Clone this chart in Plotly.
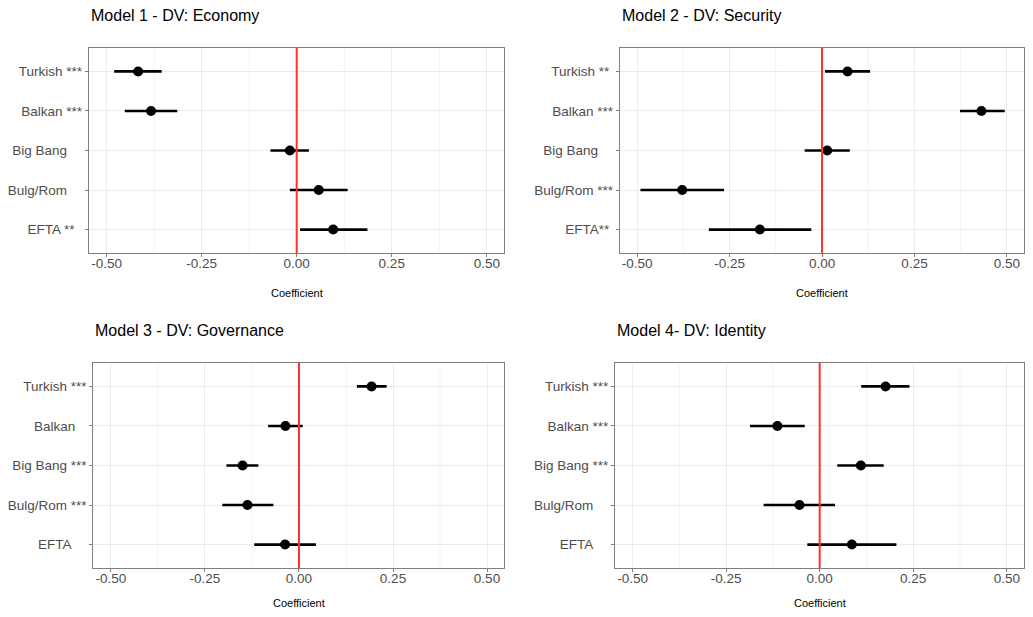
import plotly.graph_objects as go

# The page body adds an 8px margin on every side; keep the figure inside the window.
OFF = 8
W, H = 1033 - 2 * OFF, 617 - 2 * OFF
NB = "\u00a0"

categories = ["Turkish", "Balkan", "Big Bang", "Bulg/Rom", "EFTA"]

titles = ["Model 1 - DV: Economy", "Model 2 - DV: Security",
          "Model 3 - DV: Governance", "Model 4- DV: Identity"]

# tick labels (significance stars)
labels_m1 = ["Turkish ***", "Balkan ***", "Big Bang", "Bulg/Rom", "EFTA **"]
labels_m2 = ["Turkish **", "Balkan ***", "Big Bang", "Bulg/Rom ***", "EFTA**"]
labels_m3 = ["Turkish ***", "Balkan", "Big Bang ***", "Bulg/Rom ***", "EFTA"]
labels_m4 = ["Turkish ***", "Balkan ***", "Big Bang ***", "Bulg/Rom", "EFTA"]

# coefficient estimates and confidence bounds
est_m1 = [-0.417, -0.383, -0.018, 0.058, 0.096]
lo_m1 = [-0.480, -0.452, -0.069, -0.018, 0.009]
hi_m1 = [-0.355, -0.314, 0.032, 0.134, 0.186]

est_m2 = [0.069, 0.431, 0.014, -0.378, -0.168]
lo_m2 = [0.008, 0.373, -0.047, -0.491, -0.306]
hi_m2 = [0.130, 0.494, 0.075, -0.265, -0.029]

est_m3 = [0.193, -0.036, -0.150, -0.137, -0.037]
lo_m3 = [0.154, -0.082, -0.193, -0.204, -0.119]
hi_m3 = [0.233, 0.010, -0.108, -0.068, 0.045]

est_m4 = [0.176, -0.113, 0.110, -0.054, 0.086]
lo_m4 = [0.111, -0.186, 0.047, -0.150, -0.033]
hi_m4 = [0.240, -0.040, 0.171, 0.041, 0.205]

x_ticks = [-0.5, -0.25, 0.0, 0.25, 0.5]
x_ticktext = ["-0.50", "-0.25", "0.00", "0.25", "0.50"]
x_minor = [-0.375, -0.125, 0.125, 0.375]

# padding (in non-breaking spaces) to mimic the right-aligned labels
pads = [
    [0, 0, 4, 4, 2],
    [1, 0, 4, 0, 1],
    [0, 3, 0, 0, 4],
    [0, 0, 0, 4, 4],
]

panels = [
    (labels_m1, est_m1, lo_m1, hi_m1),
    (labels_m2, est_m2, lo_m2, hi_m2),
    (labels_m3, est_m3, lo_m3, hi_m3),
    (labels_m4, est_m4, lo_m4, hi_m4),
]

# panel boxes in page pixels: (left, right, top, bottom, axis-title y)
boxes = [
    (88.7, 504.3, 47.7, 253.3, 293.3),
    (619.7, 1024.0, 47.7, 253.3, 293.3),
    (93.3, 504.3, 362.7, 568.3, 603.0),
    (615.0, 1024.0, 362.7, 568.3, 603.0),
]

FONT = "Liberation Sans, Arial"

fig = go.Figure()
layout = {}
annotations = []
shapes = []

for i, ((labs, est, lo, hi), box, pad) in enumerate(zip(panels, boxes, pads)):
    n = "" if i == 0 else str(i + 1)
    xa, ya = "x" + n, "y" + n
    L, R, T, B, AY = [v - OFF for v in box]
    fig.add_trace(go.Scatter(
        x=est, y=categories, xaxis=xa, yaxis=ya, mode="markers",
        marker=dict(color="black", size=10),
        error_x=dict(type="data", symmetric=False,
                     array=[h - e for h, e in zip(hi, est)],
                     arrayminus=[e - l for e, l in zip(est, lo)],
                     width=0, thickness=2.6, color="black"),
        showlegend=False, hoverinfo="skip",
    ))
    ticktext = [t + NB * p for t, p in zip(labs, pad)]
    layout["xaxis" + n] = dict(
        domain=[L / W, R / W], anchor=ya, range=[-0.547, 0.546],
        tickmode="array", tickvals=x_ticks, ticktext=x_ticktext,
        showgrid=True, gridcolor="#ebebeb", gridwidth=1,
        zeroline=False, showline=True, mirror=True, linecolor="#7f7f7f", linewidth=1,
        ticks="outside", ticklen=3, tickcolor="#7f7f7f", tickwidth=1,
        ticklabelstandoff=-6, automargin=False,
        tickfont=dict(family=FONT, size=13.5, color="#4d4d4d"),
        fixedrange=True,
    )
    layout["yaxis" + n] = dict(
        domain=[1 - B / H, 1 - T / H], anchor=xa,
        type="category", categoryorder="array",
        categoryarray=categories[::-1],
        range=[-0.6, 4.6],
        tickmode="array", tickvals=categories, ticktext=ticktext,
        showgrid=True, gridcolor="#ebebeb", gridwidth=1,
        zeroline=False, showline=True, mirror=True, linecolor="#7f7f7f", linewidth=1,
        ticks="outside", ticklen=3, tickcolor="#7f7f7f", tickwidth=1,
        automargin=False,
        tickfont=dict(family=FONT, size=13.5, color="#4d4d4d"),
        fixedrange=True,
    )
    for mv in x_minor:
        shapes.append(dict(type="line", xref=xa, yref=ya + " domain", x0=mv, x1=mv, y0=0, y1=1,
                           line=dict(color="#f3f3f3", width=1), layer="below"))
    shapes.append(dict(type="line", xref=xa, yref=ya + " domain", x0=0, x1=0, y0=0, y1=1,
                       line=dict(color="#ff3030", width=2), layer="above"))
    annotations.append(dict(text=titles[i], xref="paper", yref="paper",
                            x=L / W, y=1 - (T - 32) / H, xanchor="left", yanchor="middle",
                            showarrow=False,
                            font=dict(family=FONT, size=16, color="black")))
    annotations.append(dict(text="Coefficient", xref="paper", yref="paper",
                            x=(L + R) / 2 / W, y=1 - AY / H,
                            xanchor="center", yanchor="middle", showarrow=False,
                            font=dict(family=FONT, size=11, color="black")))

fig.update_layout(
    width=W, height=H, margin=dict(l=0, r=0, t=0, b=0, autoexpand=False),
    paper_bgcolor="white", plot_bgcolor="white",
    annotations=annotations, shapes=shapes, **layout,
)

fig.write_html("out.html")
